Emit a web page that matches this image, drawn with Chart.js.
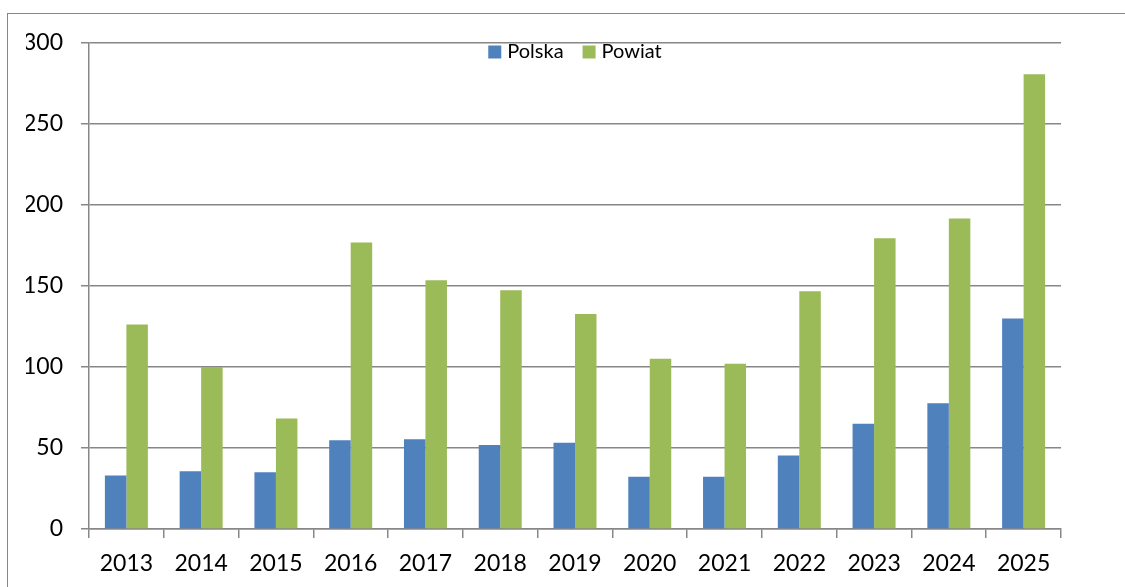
<!DOCTYPE html>
<html>
<head>
<meta charset="utf-8">
<script src="https://cdn.jsdelivr.net/npm/chart.js@4/dist/chart.umd.min.js"></script>
<style>
    body { margin: 0; background: #fff; overflow: hidden; }
    #wrap { position: relative; width: 1125px; height: 587px; }
    #frame { position: absolute; left: 7px; top: 13px; width: 1300px; height: 800px; border: 1.5px solid #878787; }
    #chart { position: absolute; left: 0; top: 0; }
</style>
</head>
<body>
<div id="wrap">
    <div id="frame"></div>
    <canvas id="chart" width="1125" height="587"></canvas>
</div>
<script>
// Data
const years = ['2013', '2014', '2015', '2016', '2017', '2018', '2019', '2020', '2021', '2022', '2023', '2024', '2025'];
const polska = [33, 35.6, 35, 54.8, 55.4, 51.9, 53.2, 32.2, 32.2, 45.3, 64.9, 77.7, 129.9];
const powiat = [126.2, 100, 68.2, 176.9, 153.6, 147.4, 132.7, 105.1, 102, 146.8, 179.4, 191.7, 280.7];
const yTicks = [0, 50, 100, 150, 200, 250, 300];

const FONT = 'Lato, "Open Sans", sans-serif';
const GRID = '#878787';

// Legend drawn inside the plot area, centered at the top (like the Excel original)
const insideLegend = {
    id: 'insideLegend',
    afterDraw(chart) {
        const ctx = chart.ctx;
        const area = chart.chartArea;
        const box = 13, gap = 6, itemGap = 19;
        ctx.save();
        ctx.font = '20px ' + FONT;
        ctx.textBaseline = 'middle';
        const items = chart.data.datasets.map(ds => ({
            label: ds.label,
            color: ds.backgroundColor,
            w: box + gap + ctx.measureText(ds.label).width
        }));
        const total = items.reduce((s, it) => s + it.w, 0) + itemGap * (items.length - 1);
        let x = (area.left + area.right) / 2 - total / 2;
        const y = area.top + 9;
        items.forEach(it => {
            ctx.fillStyle = it.color;
            ctx.fillRect(x, y - box / 2, box, box);
            ctx.fillStyle = '#000';
            ctx.fillText(it.label, x + box + gap, y);
            x += it.w + itemGap;
        });
        ctx.restore();
    }
};

const chartEl = document.getElementById('chart');
chartEl.chart = new Chart(chartEl, {
    type: 'bar',
    data: {
        labels: years,
        datasets: [{
            label: 'Polska',
            data: polska,
            backgroundColor: '#4F81BD'
        }, {
            label: 'Powiat',
            data: powiat,
            backgroundColor: '#9BBB59'
        }]
    },
    options: {
        responsive: false,
        animation: false,
        layout: {
            padding: { left: 26, right: 64, top: 43, bottom: 0 }
        },
        datasets: {
            bar: {
                categoryPercentage: 0.575,
                barPercentage: 1
            }
        },
        scales: {
            x: {
                offset: true,
                afterFit: scale => { scale.height = 58; },
                grid: {
                    offset: true,
                    drawOnChartArea: false,
                    drawTicks: true,
                    tickLength: 9,
                    color: GRID,
                    lineWidth: 1.5
                },
                border: { color: GRID, width: 1.5 },
                ticks: {
                    color: '#000',
                    font: { family: FONT, size: 23 },
                    padding: 12,
                    maxRotation: 0
                }
            },
            y: {
                min: 0,
                max: 300,
                afterFit: scale => { scale.width = 63; },
                afterBuildTicks: scale => { scale.ticks = yTicks.map(v => ({ value: v })); },
                grid: {
                    color: GRID,
                    lineWidth: 1.5,
                    drawTicks: true,
                    tickLength: 8
                },
                border: { color: GRID, width: 1.5 },
                ticks: {
                    color: '#000',
                    font: { family: FONT, size: 23 },
                    padding: 18
                }
            }
        },
        plugins: {
            legend: { display: false },
            tooltip: { enabled: false }
        }
    },
    plugins: [insideLegend]
});
</script>
</body>
</html>
